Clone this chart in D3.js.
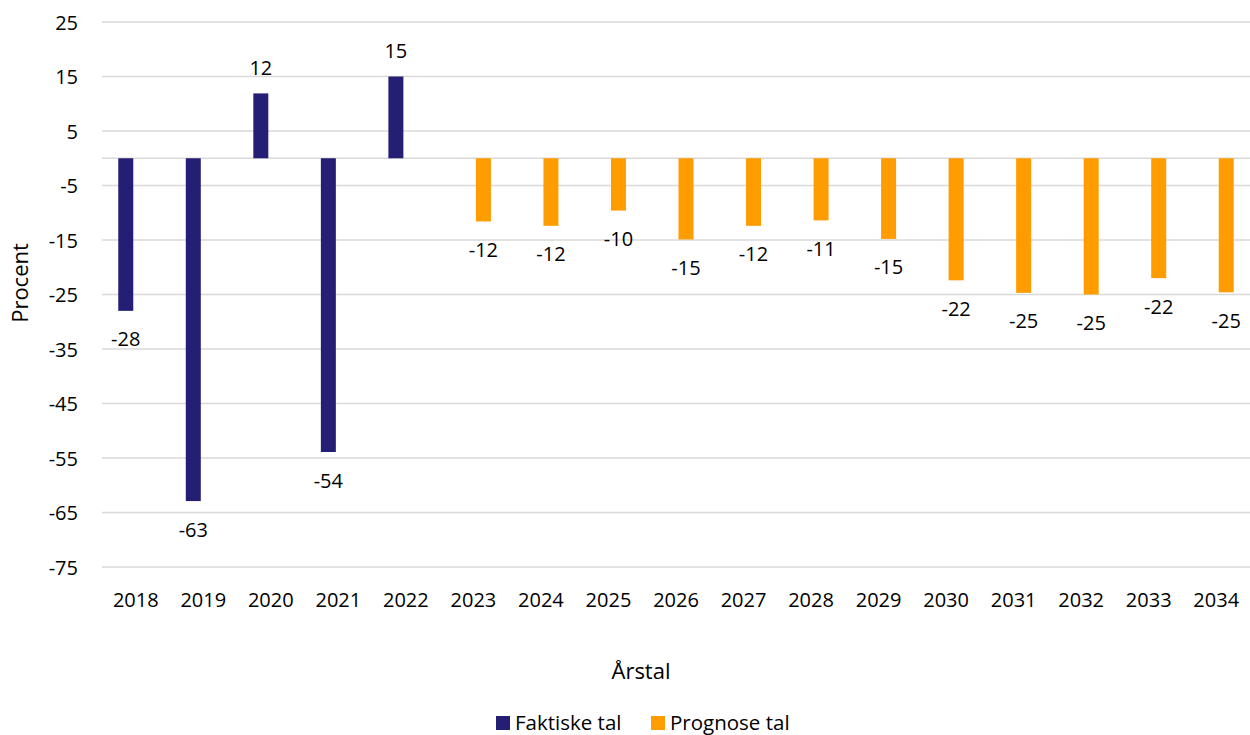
<!DOCTYPE html>
<html>
<head>
<meta charset="utf-8">
<script src="https://cdn.jsdelivr.net/npm/d3@7"></script>
<style>
  html, body { margin: 0; padding: 0; background: #fff; }
  svg { display: block; font-family: "Open Sans", Lato, sans-serif; }
</style>
</head>
<body>
<svg id="chart" width="1250" height="735"></svg>
<script>
const years = ["2018","2019","2020","2021","2022","2023","2024","2025","2026","2027","2028","2029","2030","2031","2032","2033","2034"];
const seriesNames = ["Faktiske tal", "Prognose tal"];
const faktiske = [-28.0, -62.9, 11.9, -53.9, 15.0, null, null, null, null, null, null, null, null, null, null, null, null];
const prognose = [null, null, null, null, null, -11.6, -12.4, -9.6, -14.9, -12.4, -11.4, -14.8, -22.4, -24.7, -25.0, -22.0, -24.6];
const yTicks = [-75, -65, -55, -45, -35, -25, -15, -5, 5, 15, 25];
const colors = ["#241f74", "#ff9c00"];

const svg = d3.select("#chart");
const x0 = d3.scaleBand().domain(years).range([102, 1250]).padding(0);
const x1 = d3.scaleBand().domain(seriesNames).range([0, 35]).paddingInner(0.25);
const y = d3.scaleLinear().domain([-75, 25]).range([567, 22]);

// gridlines
svg.append("g").selectAll("line").data(yTicks).join("line")
  .attr("x1", 102).attr("x2", 1250)
  .attr("y1", d => y(d)).attr("y2", d => y(d))
  .attr("stroke", "#d9d9d9").attr("stroke-width", 1.5);
// zero axis line
svg.append("line").attr("x1", 102).attr("x2", 1250)
  .attr("y1", y(0)).attr("y2", y(0))
  .attr("stroke", "#d9d9d9").attr("stroke-width", 1.5);

// y tick labels
svg.append("g").selectAll("text").data(yTicks).join("text")
  .attr("x", 78).attr("y", d => y(d))
  .attr("text-anchor", "end").attr("dominant-baseline", "central")
  .attr("font-size", 20).attr("fill", "#000")
  .text(d => d);

// x tick labels
svg.append("g").selectAll("text").data(years).join("text")
  .attr("x", d => x0(d) + x0.bandwidth() / 2).attr("y", 599)
  .attr("text-anchor", "middle").attr("dominant-baseline", "central")
  .attr("font-size", 20).attr("fill", "#000")
  .text(d => d);

const allSeries = [faktiske, prognose];
const pts = [];
allSeries.forEach((arr, si) => {
  arr.forEach((v, i) => {
    if (v !== null) pts.push({ year: years[i], s: seriesNames[si], si, v });
  });
});
const off = (x0.bandwidth() - 35) / 2;
svg.append("g").selectAll("rect").data(pts).join("rect")
  .attr("x", d => x0(d.year) + off + x1(d.s))
  .attr("width", x1.bandwidth())
  .attr("y", d => Math.min(y(d.v), y(0)))
  .attr("height", d => Math.abs(y(d.v) - y(0)))
  .attr("fill", d => colors[d.si]);

svg.append("g").selectAll("text").data(pts).join("text")
  .attr("x", d => x0(d.year) + off + x1(d.s) + x1.bandwidth() / 2)
  .attr("y", d => d.v >= 0 ? y(d.v) - 26 : y(d.v) + 28)
  .attr("text-anchor", "middle").attr("dominant-baseline", "central")
  .attr("font-size", 20).attr("fill", "#000")
  .text(d => Math.round(d.v));

// axis titles
svg.append("text")
  .attr("transform", "translate(19,283) rotate(-90)")
  .attr("text-anchor", "middle").attr("dominant-baseline", "central")
  .attr("font-size", 22).attr("fill", "#000")
  .text("Procent");
svg.append("text")
  .attr("x", 641).attr("y", 670)
  .attr("text-anchor", "middle").attr("dominant-baseline", "central")
  .attr("font-size", 22).attr("fill", "#000")
  .text("Årstal");

// legend
const legend = svg.append("g");
const legX = [496, 651];
seriesNames.forEach((n, i) => {
  legend.append("rect").attr("x", legX[i]).attr("y", 716).attr("width", 14).attr("height", 14).attr("fill", colors[i]);
  legend.append("text").attr("x", legX[i] + 19).attr("y", 722)
    .attr("dominant-baseline", "central").attr("font-size", 20.5).attr("fill", "#000")
    .text(n);
});
</script>
</body>
</html>
